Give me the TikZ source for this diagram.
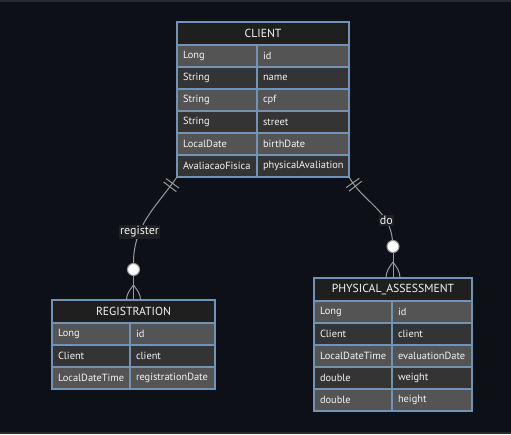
\documentclass[tikz,border=0pt]{standalone}
\usepackage{fontspec}
\setmainfont{PT Sans}
\usetikzlibrary{positioning}
\definecolor{ERBack}{HTML}{0D1117}
\definecolor{ERStrip}{HTML}{262A30}
\definecolor{ERHead}{HTML}{1F1F1F}
\definecolor{ERRowLight}{HTML}{545454}
\definecolor{ERRowDark}{HTML}{343434}
\definecolor{EREdge}{HTML}{7193B5}
\definecolor{ERLine}{HTML}{999999}
\definecolor{ERText}{HTML}{F4F4F4}
\definecolor{ERLabelBody}{HTML}{1D1F23}

\begin{document}
\begin{tikzpicture}[x=1pt,y=1pt,
    head/.style={draw=EREdge,line width=1.2pt,fill=ERHead,text=ERText,outer sep=0pt,
      font=\fontsize{11.7}{13}\selectfont,minimum height=23pt,inner sep=0pt,anchor=north west},
    cell/.style={draw=EREdge,line width=1.2pt,text=ERText,font=\fontsize{10.4}{12}\selectfont,
      minimum height=22pt,inner xsep=6pt,inner ysep=0pt,outer sep=0pt,align=left},
    light/.style={cell,fill=ERRowLight},
    dark/.style={cell,fill=ERRowDark},
    rel/.style={draw=ERLine,line width=1pt},
    lbl/.style={fill=ERLabelBody,text=ERText,font=\fontsize{12}{14}\selectfont,inner xsep=1pt,inner ysep=1.5pt},
    bar/.style={draw=ERLine,line width=1pt,sloped,shape=rectangle,minimum width=0pt,minimum height=16pt,inner sep=0pt},
    zero/.style={circle,draw=ERLine,line width=1pt,fill=white,minimum size=12pt,inner sep=0pt}
  ]
  \fill[ERBack] (0,0) rectangle (511,-434);
  \fill[ERStrip] (0,0) rectangle (511,-2);
  \fill[ERStrip] (0,-432) rectangle (511,-434);

  % CLIENT
  \node[head,minimum width=172pt] (client-h) at (177,-22) {CLIENT};
  \node[light,text width=68pt,below right=0pt and 0pt of client-h.south west] (client-1a) {Long};
  \node[light,text width=80pt,right=0pt of client-1a] (client-1b) {id};
  \node[dark,text width=68pt,below=0pt of client-1a] (client-2a) {String};
  \node[dark,text width=80pt,right=0pt of client-2a] (client-2b) {name};
  \node[light,text width=68pt,below=0pt of client-2a] (client-3a) {String};
  \node[light,text width=80pt,right=0pt of client-3a] (client-3b) {cpf};
  \node[dark,text width=68pt,below=0pt of client-3a] (client-4a) {String};
  \node[dark,text width=80pt,right=0pt of client-4a] (client-4b) {street};
  \node[light,text width=68pt,below=0pt of client-4a] (client-5a) {LocalDate};
  \node[light,text width=80pt,right=0pt of client-5a] (client-5b) {birthDate};
  \node[dark,text width=68pt,below=0pt of client-5a] (client-6a) {AvaliacaoFisica};
  \node[dark,text width=80pt,right=0pt of client-6a] (client-6b) {physicalAvaliation};

  % REGISTRATION
  \node[head,minimum width=163pt] (reg-h) at (52,-300) {REGISTRATION};
  \node[light,text width=66pt,below right=0pt and 0pt of reg-h.south west] (reg-1a) {Long};
  \node[light,text width=73pt,right=0pt of reg-1a] (reg-1b) {id};
  \node[dark,text width=66pt,below=0pt of reg-1a] (reg-2a) {Client};
  \node[dark,text width=73pt,right=0pt of reg-2a] (reg-2b) {client};
  \node[light,text width=66pt,below=0pt of reg-2a] (reg-3a) {LocalDateTime};
  \node[light,text width=73pt,right=0pt of reg-3a] (reg-3b) {registrationDate};

  % PHYSICAL_ASSESSMENT
  \node[head,minimum width=158pt] (phy-h) at (314,-278) {PHYSICAL\_ASSESSMENT};
  \node[light,text width=66pt,below right=0pt and 0pt of phy-h.south west] (phy-1a) {Long};
  \node[light,text width=68pt,right=0pt of phy-1a] (phy-1b) {id};
  \node[dark,text width=66pt,below=0pt of phy-1a] (phy-2a) {Client};
  \node[dark,text width=68pt,right=0pt of phy-2a] (phy-2b) {client};
  \node[light,text width=66pt,below=0pt of phy-2a] (phy-3a) {LocalDateTime};
  \node[light,text width=68pt,right=0pt of phy-3a] (phy-3b) {evaluationDate};
  \node[dark,text width=66pt,below=0pt of phy-3a] (phy-4a) {double};
  \node[dark,text width=68pt,right=0pt of phy-4a] (phy-4b) {weight};
  \node[light,text width=66pt,below=0pt of phy-4a] (phy-5a) {double};
  \node[light,text width=68pt,right=0pt of phy-5a] (phy-5b) {height};

  % relationships
  \node[zero,above=24pt of reg-h.north] (reg-o) {};
  \coordinate[above=15pt of reg-h.north] (reg-apex);
  \draw[rel] (client-6a.south west) to[out=-125,in=90]
    node[bar,pos=.07]{} node[bar,pos=.11]{} node[lbl,pos=.68]{register} (reg-o);
  \draw[rel] (reg-o) -- (reg-h);
  \draw[rel] (reg-apex) to[out=-125,in=90] ([xshift=-7pt]reg-h.north);
  \draw[rel] (reg-apex) to[out=-55,in=90] ([xshift=7pt]reg-h.north);

  \node[zero,above=25pt of phy-h.north] (phy-o) {};
  \coordinate[above=16pt of phy-h.north] (phy-apex);
  \draw[rel] (client-6b.south east) to[out=-60,in=95]
    node[bar,pos=.08]{} node[bar,pos=.13]{} node[lbl,pos=.74]{do} (phy-o);
  \draw[rel] (phy-o) -- (phy-h);
  \draw[rel] (phy-apex) to[out=-125,in=90] ([xshift=-7pt]phy-h.north);
  \draw[rel] (phy-apex) to[out=-55,in=90] ([xshift=7pt]phy-h.north);
\end{tikzpicture}
\end{document}
